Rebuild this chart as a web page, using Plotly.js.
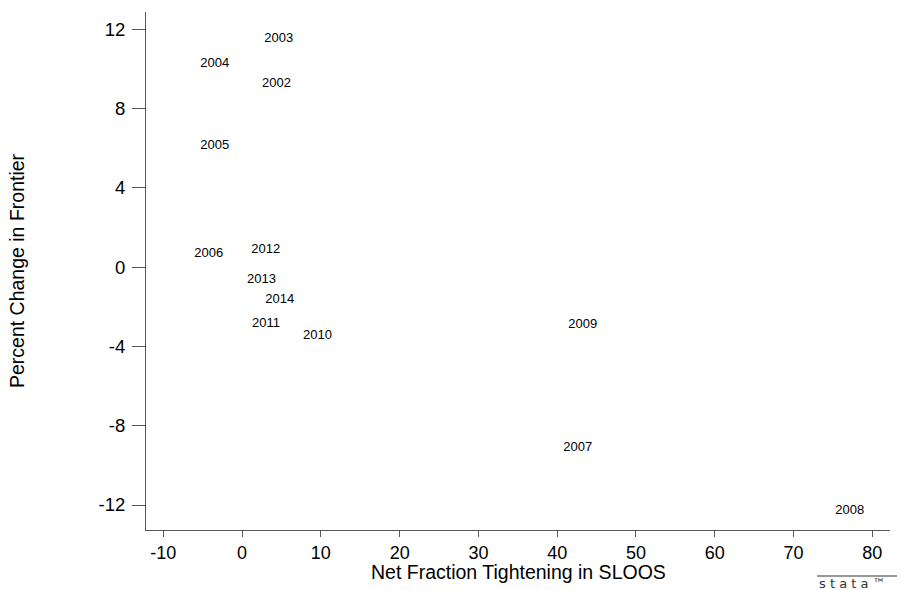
<!DOCTYPE html>
<html>
<head>
<meta charset="utf-8">
<script src="https://cdn.plot.ly/plotly-3.0.1.min.js"></script>
<style>html,body{margin:0;padding:0;background:#fff;}#chart{width:900px;height:590px;}</style>
</head>
<body>
<div id="chart"></div>
<script>
// Net fraction tightening in SLOOS (x) vs percent change in frontier (y), labelled by year
const years = ["2002","2003","2004","2005","2006","2007","2008","2009","2010","2011","2012","2013","2014"];
const sloos = [2.53, 2.82, -5.3, -5.3, -6.06, 40.78, 75.31, 41.41, 7.74, 1.26, 1.17, 0.63, 2.95];
const frontierChange = [9.23, 11.5, 10.24, 6.1, 0.67, -9.11, -12.3, -2.92, -3.48, -2.87, 0.86, -0.65, -1.65];

const xTicks = [-10, 0, 10, 20, 30, 40, 50, 60, 70, 80];
const yTicks = [-12, -8, -4, 0, 4, 8, 12];
const xTitle = "Net Fraction Tightening in SLOOS";
const yTitle = "Percent Change in Frontier";

const font = "Liberation Sans, Arial, Helvetica, sans-serif";

const trace = {
  type: "scatter",
  mode: "text",
  x: sloos,
  y: frontierChange,
  text: years,
  textposition: "middle right",
  textfont: {family: font, size: 13, color: "#000"},
  hoverinfo: "x+y+text",
  showlegend: false
};

const axisCommon = {
  showline: true,
  linecolor: "#555",
  linewidth: 1,
  showgrid: false,
  zeroline: false,
  ticks: "outside",
  tickwidth: 1,
  tickcolor: "#555",
  tickfont: {family: font, size: 18.5, color: "#000"}
};

const layout = {
  width: 900,
  height: 590,
  paper_bgcolor: "#fff",
  plot_bgcolor: "#fff",
  margin: {l: 146, r: 10, t: 12, b: 60},
  xaxis: Object.assign({}, axisCommon, {
    range: [-12.2, 82.25],
    ticklen: 6,
    tickfont: {family: font, size: 18, color: "#000"},
    tickmode: "array",
    tickvals: xTicks,
    ticktext: xTicks.map(String)
  }),
  yaxis: Object.assign({}, axisCommon, {
    range: [-13.26, 12.86],
    ticklen: 13,
    ticklabelstandoff: 3,
    tickmode: "array",
    tickvals: yTicks,
    ticktext: yTicks.map(String),
    title: {text: yTitle, font: {family: font, size: 19.5, color: "#000"}, standoff: 68}
  }),
  shapes: [
    {type: "line", xref: "paper", yref: "paper", x0: (817-146)/744, x1: (897-146)/744, y0: -(576-530)/518, y1: -(576-530)/518, line: {color: "#333", width: 1}}
  ],
  annotations: [
    {xref: "paper", yref: "paper", x: 0.5, y: -(572-530)/518, xanchor: "center", yanchor: "middle",
     text: xTitle, showarrow: false, font: {family: font, size: 19.5, color: "#000"}},
    {xref: "paper", yref: "paper", x: (817-146)/744, y: -(583-530)/518, xanchor: "left", yanchor: "middle",
     text: "s\u00a0t\u00a0a\u00a0t\u00a0a\u00a0\u2122", showarrow: false, font: {family: "DejaVu Sans, sans-serif", size: 13, color: "#333"}}
  ]
};

Plotly.newPlot("chart", [trace], layout, {displayModeBar: false, staticPlot: true});
</script>
</body>
</html>
